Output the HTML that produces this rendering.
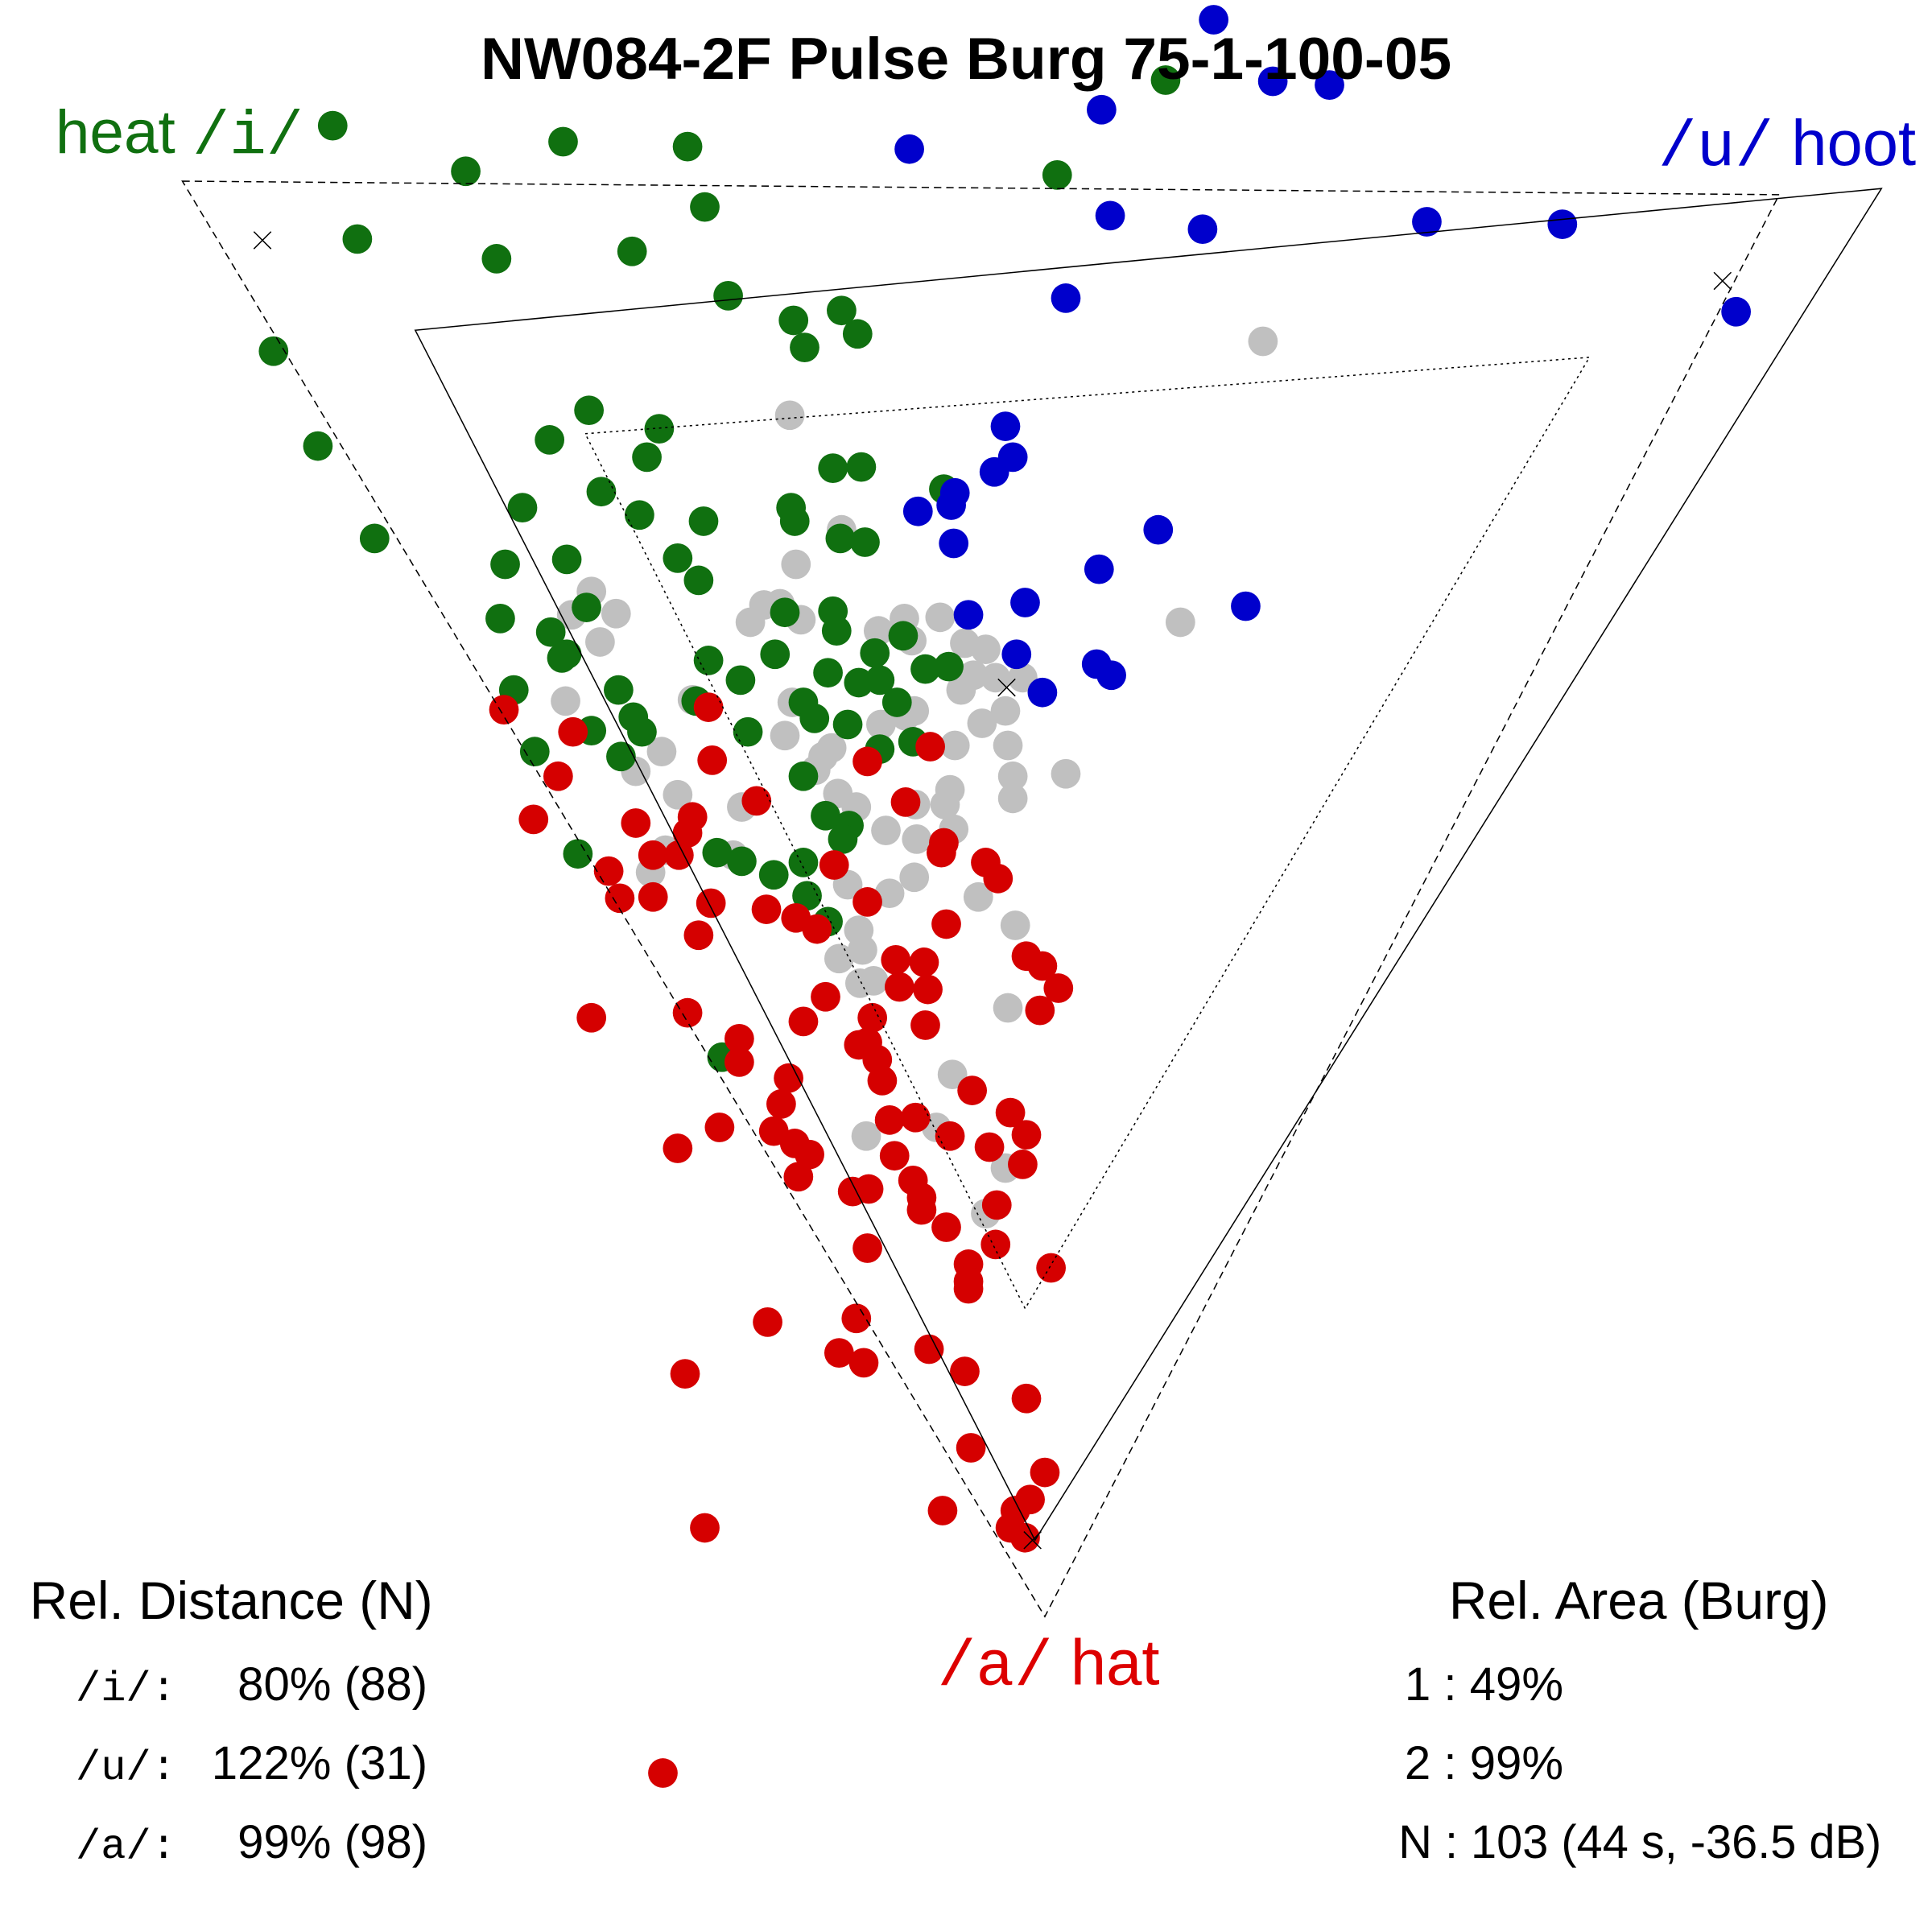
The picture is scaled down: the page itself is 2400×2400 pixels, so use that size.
<!DOCTYPE html>
<html><head><meta charset="utf-8"><style>
html,body{margin:0;padding:0;background:#fff;}
svg{display:block}
text{font-family:"Liberation Sans",sans-serif}
.m{font-family:"Liberation Mono",monospace}
</style></head><body>
<svg id="s" width="2400" height="2400" viewBox="0 0 1568 1568" xmlns="http://www.w3.org/2000/svg">
<rect width="1568" height="1568" fill="#fff"/>
<g id="pts"></g>
<g fill="none" stroke="#000" stroke-width="1">
<polygon points="148,147 1444,158 848,1312" stroke-dasharray="6,4"/>
<polygon points="337,268 1527,153 840,1250"/>
<polygon points="475,352 1290,290 832,1062" stroke-dasharray="2,3"/>
<path d="M206,188l14,14M220,188l-14,14 M1391,221l14,14M1405,221l-14,14 M810,551l14,14M824,551l-14,14 M831,1243l14,14M845,1243l-14,14"/>
</g>
<text x="784" y="64" font-size="48" font-weight="bold" text-anchor="middle" textLength="788" lengthAdjust="spacingAndGlyphs">NW084-2F Pulse Burg 75-1-100-05</text>
<text x="45" y="124" font-size="50" fill="#107010">heat <tspan class="m">/i/</tspan></text>
<text x="1555" y="134" font-size="52" fill="#0000cc" text-anchor="end"><tspan class="m">/u/</tspan> hoot</text>
<text x="851" y="1367" font-size="52" fill="#dd0000" text-anchor="middle"><tspan class="m">/a/</tspan> hat</text>
<g font-size="38">
<text x="24" y="1314" font-size="43">Rel. Distance (N)</text>
<text x="143" y="1380" text-anchor="end" class="m" font-size="34">/i/:</text>
<text x="143" y="1444" text-anchor="end" class="m" font-size="34">/u/:</text>
<text x="143" y="1508" text-anchor="end" class="m" font-size="34">/a/:</text>
<text x="347" y="1380" text-anchor="end">80% (88)</text>
<text x="347" y="1444" text-anchor="end">122% (31)</text>
<text x="347" y="1508" text-anchor="end">99% (98)</text>
<text x="1330" y="1314" text-anchor="middle" font-size="43">Rel. Area (Burg)</text>
<text x="1140" y="1380">1 : 49%</text>
<text x="1140" y="1444">2 : 99%</text>
<text x="1135" y="1508" textLength="392" lengthAdjust="spacingAndGlyphs">N : 103 (44 s, -36.5 dB)</text>
</g>
</svg>
<script>
var G=[[270,102],[457,115],[558,119],[378,139],[572,168],[290,194],[403,210],[513,204],[591,240],[222,285],[644,260],[683,252],[696,271],[653,282],[258,362],[478,333],[535,348],[446,357],[525,371],[304,437],[424,412],[488,399],[519,418],[571,423],[642,412],[645,423],[676,380],[699,379],[682,437],[702,440],[410,458],[460,454],[550,453],[567,471],[406,502],[476,493],[447,513],[460,531],[456,534],[575,536],[629,531],[637,497],[676,496],[679,512],[710,530],[733,516],[751,543],[770,541],[672,546],[697,554],[714,552],[728,570],[601,552],[417,560],[502,560],[480,593],[514,582],[521,594],[504,614],[434,610],[565,569],[607,594],[652,570],[661,583],[688,588],[714,608],[741,602],[652,630],[670,662],[689,670],[684,681],[469,693],[582,692],[602,699],[628,710],[652,700],[655,727],[672,748],[586,858],[946,65],[858,142],[766,397]];
var B=[[985,16],[1033,66],[1079,69],[894,89],[738,121],[901,175],[976,186],[1158,180],[1268,182],[865,242],[1409,253],[816,346],[822,371],[807,383],[745,415],[775,400],[772,410],[774,441],[940,430],[892,462],[1011,492],[786,499],[832,489],[825,531],[890,539],[902,548],[846,562]];
var R=[[409,576],[575,574],[465,594],[453,630],[578,617],[704,618],[755,606],[433,665],[516,668],[562,663],[558,676],[614,650],[735,651],[766,684],[764,692],[530,694],[551,694],[494,707],[503,729],[530,728],[677,702],[800,700],[810,713],[577,733],[622,738],[646,745],[663,754],[704,732],[768,750],[567,759],[727,779],[750,781],[833,776],[846,784],[859,802],[730,801],[753,803],[844,820],[480,826],[558,822],[652,829],[670,809],[708,826],[751,832],[600,843],[600,862],[697,848],[704,846],[712,860],[716,877],[640,875],[634,896],[584,915],[628,918],[645,928],[657,937],[550,932],[722,909],[743,907],[771,922],[789,885],[820,903],[833,921],[803,931],[830,945],[726,938],[648,955],[741,958],[748,972],[692,967],[705,965],[748,982],[768,996],[809,978],[808,1010],[704,1013],[786,1026],[786,1040],[786,1046],[853,1029],[623,1073],[695,1070],[681,1098],[701,1106],[754,1095],[783,1113],[556,1115],[833,1135],[788,1175],[848,1195],[765,1226],[824,1226],[836,1217],[820,1240],[832,1248],[572,1240],[538,1439]];
var Y=[[1025,277],[641,337],[683,430],[646,458],[480,480],[500,498],[464,499],[487,521],[609,505],[620,491],[633,490],[650,503],[713,512],[734,502],[763,501],[740,520],[783,522],[800,527],[780,560],[790,548],[808,550],[830,550],[816,577],[797,587],[742,577],[958,505],[459,569],[562,568],[643,570],[637,597],[675,607],[668,614],[662,625],[715,588],[735,581],[775,605],[818,605],[822,630],[822,648],[865,628],[771,641],[767,653],[743,653],[680,644],[695,655],[602,655],[537,610],[516,626],[550,645],[719,674],[744,681],[774,673],[742,712],[722,725],[688,718],[794,728],[824,751],[697,755],[700,771],[681,778],[698,798],[709,796],[818,818],[773,872],[703,922],[760,915],[816,948],[800,985],[528,708],[540,690],[595,694]];
var g=document.getElementById('pts'),h='';
function add(a,c){a.forEach(function(p){h+='<circle cx="'+p[0]+'" cy="'+p[1]+'" r="12" fill="'+c+'"/>';});}
add(Y,'#c0c0c0');add(G,'#107010');add(B,'#0000cc');add(R,'#d50000');
g.innerHTML=h;
</script>
</body></html>
